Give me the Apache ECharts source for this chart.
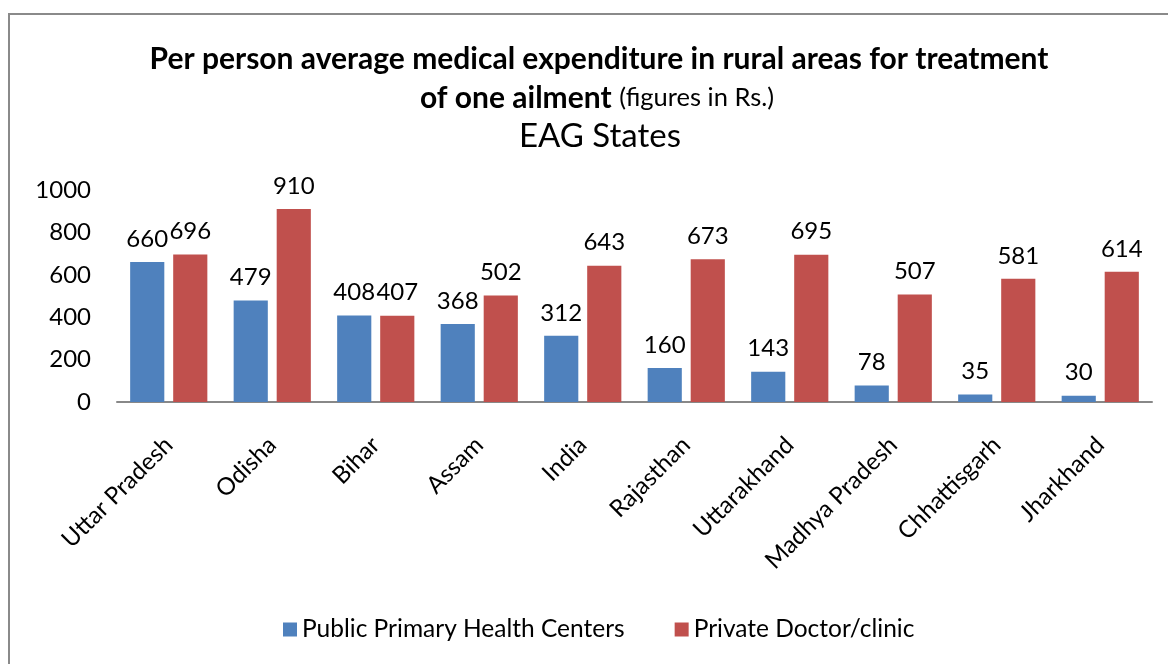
<!DOCTYPE html>
<html>
<head>
<meta charset="utf-8">
<script src="https://cdn.jsdelivr.net/npm/echarts@6/dist/echarts.min.js"></script>
<style>
  html, body { margin: 0; padding: 0; background: #fff; }
  #chart { width: 1168px; height: 664px; }
</style>
</head>
<body>
<div id="chart"></div>
<script>
// data
const states = ['Uttar Pradesh', 'Odisha', 'Bihar', 'Assam', 'India', 'Rajasthan',
  'Uttarakhand', 'Madhya Pradesh', 'Chhattisgarh', 'Jharkhand'];
const publicPHC = [660, 479, 408, 368, 312, 160, 143, 78, 35, 30];
const privateClinic = [696, 910, 407, 502, 643, 673, 695, 507, 581, 614];
const seriesNames = ['Public Primary Health Centers', 'Private Doctor/clinic'];

const font = 'Lato, "Noto Sans", sans-serif';

const labelStyle = {
  show: true,
  position: 'top',
  distance: 11,
  color: '#000',
  fontSize: 24,
  fontFamily: font
};

const option = {
  animation: false,
  title: [
    {
      text: 'Per person average medical expenditure in rural areas for treatment',
      left: 594,
      textAlign: 'center',
      top: 39,
      textStyle: { fontSize: 30, fontWeight: 'bold', color: '#000', fontFamily: font }
    },
    {
      text: '{b|of one ailment}{s| }{n|(figures in Rs.)}',
      left: 592,
      textAlign: 'center',
      top: 78,
      textStyle: {
        rich: {
          b: { fontSize: 30, fontWeight: 'bold', color: '#000', fontFamily: font },
          s: { fontSize: 30, fontWeight: 'normal', color: '#000', fontFamily: font },
          n: { fontSize: 25.5, fontWeight: 'normal', color: '#000', fontFamily: font }
        }
      }
    },
    {
      text: 'EAG States',
      left: 595,
      textAlign: 'center',
      top: 115,
      textStyle: { fontSize: 33, fontWeight: 'normal', color: '#000', fontFamily: font }
    }
  ],
  graphic: [{
    type: 'rect',
    shape: { x: 9, y: 14, width: 1200, height: 700 },
    style: { fill: 'none', stroke: '#8a8a8a', lineWidth: 2 },
    silent: true
  }],
  legend: {
    data: seriesNames,
    bottom: 17,
    left: 278,
    itemWidth: 14,
    itemHeight: 14,
    itemGap: 50,
    icon: 'rect',
    textStyle: { fontSize: 24.5, color: '#000', fontFamily: font }
  },
  grid: { left: 117, right: 16, top: 190, bottom: 262 },
  xAxis: {
    type: 'category',
    data: states,
    axisLine: { lineStyle: { color: '#888', width: 2 } },
    axisTick: { show: false },
    axisLabel: {
      rotate: 45,
      interval: 0,
      margin: 39,
      color: '#000',
      fontSize: 24,
      fontFamily: font
    }
  },
  yAxis: {
    type: 'value',
    min: 0,
    max: 1000,
    interval: 200,
    splitLine: { show: false },
    axisLine: { show: false },
    axisTick: { show: false },
    axisLabel: {
      margin: 26,
      color: '#000',
      fontSize: 24,
      fontFamily: font,
      formatter: v => String(v)
    }
  },
  series: [
    {
      name: seriesNames[0],
      type: 'bar',
      data: publicPHC,
      barWidth: '33%',
      barGap: '26%',
      itemStyle: { color: '#4f81bd' },
      label: labelStyle
    },
    {
      name: seriesNames[1],
      type: 'bar',
      data: privateClinic,
      barWidth: '33%',
      barGap: '26%',
      itemStyle: { color: '#c0504d' },
      label: labelStyle
    }
  ]
};

const myChart = echarts.init(document.getElementById('chart'));
myChart.setOption(option);
</script>
</body>
</html>
